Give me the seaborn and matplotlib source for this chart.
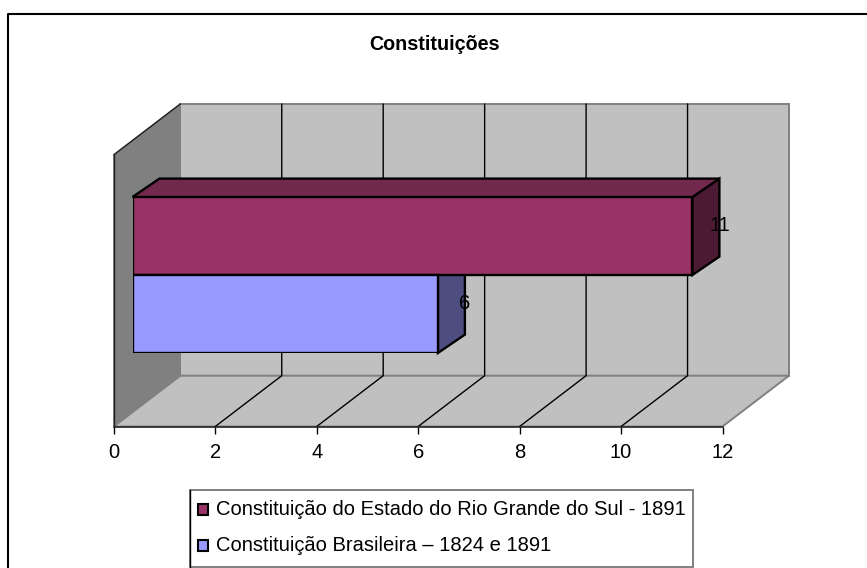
import matplotlib
matplotlib.use('Agg')
import matplotlib.pyplot as plt
import pandas as pd
import seaborn as sns
from matplotlib.patches import Polygon, Rectangle

W, H = 867, 568

titulo = 'Constituições'
categorias = ['Constituição do Estado do Rio Grande do Sul - 1891',
              'Constituição Brasileira – 1824 e 1891']
valores = [11, 6]
cores = ['#993366', '#9999FF']
cores_topo = ['#73294D', '#73294D']
cores_lado = ['#4D1A33', '#4D4D80']
ticks = [0, 2, 4, 6, 8, 10, 12]

# pixels of the fake 3D box
EIXO_X0, EIXO_X1, CHAO_Y = 113.8, 722.5, 426.5
DX, DY = 66.5, 50.8
TOPO_Y = 104
BARRA_X0, BARRA_Y0, BARRA_Y1 = 132.5, 197, 353
BARRA_ESCALA = 50.9
BARRA_DX, BARRA_DY = 27, 18.4

CINZA = '#C0C0C0'
BORDA = '#808080'

sns.set_theme(style='white')
plt.rcParams['font.family'] = ['Liberation Sans', 'DejaVu Sans']

fig = plt.figure(figsize=(W / 100, H / 100), dpi=100, facecolor='white')


def caixa(x0, y0, x1, y1):
    # axes rectangle from image pixels (y down)
    return [x0 / W, 1 - y1 / H, (x1 - x0) / W, (y1 - y0) / H]


# background in pixel coords
bg = fig.add_axes([0, 0, 1, 1])
bg.set_xlim(0, W)
bg.set_ylim(H, 0)
bg.axis('off')

# outer frame, cut by the image on the right and at the bottom
bg.plot([7.5, 7.5, W + 2], [H + 2, 13.5, 13.5], color='black', lw=1.5, clip_on=False)

# walls
fundo = [(EIXO_X0 + DX, TOPO_Y), (EIXO_X1 + DX, TOPO_Y), (EIXO_X1 + DX, CHAO_Y - DY), (EIXO_X0 + DX, CHAO_Y - DY)]
bg.add_patch(Polygon(fundo, facecolor=CINZA, edgecolor=BORDA, lw=1.4))
parede = [(EIXO_X0, TOPO_Y + DY), (EIXO_X0 + DX, TOPO_Y), (EIXO_X0 + DX, CHAO_Y - DY), (EIXO_X0, CHAO_Y)]
bg.add_patch(Polygon(parede, facecolor=BORDA, edgecolor=BORDA, lw=1))
chao = [(EIXO_X0, CHAO_Y), (EIXO_X1, CHAO_Y), (EIXO_X1 + DX, CHAO_Y - DY), (EIXO_X0 + DX, CHAO_Y - DY)]
bg.add_patch(Polygon(chao, facecolor=CINZA, edgecolor=BORDA, lw=1.4))
bg.plot([EIXO_X0, EIXO_X0 + DX], [TOPO_Y + DY, TOPO_Y], color='#202020', lw=1)
bg.plot([EIXO_X0, EIXO_X0], [TOPO_Y + DY, CHAO_Y], color='#202020', lw=1)

# gridlines on wall and floor
esc = (EIXO_X1 - EIXO_X0) / 12
for t in ticks[1:-1]:
    px = EIXO_X0 + t * esc
    bg.plot([px, px + DX, px + DX], [CHAO_Y, CHAO_Y - DY, TOPO_Y], color='black', lw=1)

# value axis
ax = fig.add_axes(caixa(EIXO_X0, CHAO_Y - 10, EIXO_X1, CHAO_Y))
ax.patch.set_alpha(0)
ax.set_xlim(0, 12)
ax.set_ylim(0, 1)
ax.set_xticks(ticks)
ax.set_yticks([])
for s in ['top', 'left', 'right']:
    ax.spines[s].set_visible(False)
ax.spines['bottom'].set_color('#202020')
ax.spines['bottom'].set_linewidth(1.1)
ax.tick_params(axis='x', bottom=True, length=5, width=1, color='black', labelsize=14.5, pad=7, labelcolor='black')

# bars
df = pd.DataFrame({'categoria': categorias, 'valor': valores})
ab = fig.add_axes(caixa(BARRA_X0, BARRA_Y0, BARRA_X0 + 12 * BARRA_ESCALA, BARRA_Y1))
ab.patch.set_alpha(0)
sns.barplot(data=df, x='valor', y='categoria', hue='categoria', palette=cores, width=1.0, saturation=1,
            edgecolor='black', linewidth=1.7, legend=False, ax=ab, zorder=3)
ab.set_xlim(0, 12)
ab.set_ylim(1.5, -0.5)
ab.axis('off')

dx = BARRA_DX / BARRA_ESCALA
dy = BARRA_DY / 78
for i, v in enumerate(valores):
    lado = [(v, i - 0.5), (v + dx, i - 0.5 - dy), (v + dx, i + 0.5 - dy), (v, i + 0.5)]
    ab.add_patch(Polygon(lado, facecolor=cores_lado[i], edgecolor='black', lw=1.7, clip_on=False, zorder=2))
    ab.text(v + dx, i - 0.14, str(v), ha='center', va='center', fontsize=14.5, color='black', zorder=5)
topo = [(0, -0.5), (valores[0], -0.5), (valores[0] + dx, -0.5 - dy), (dx, -0.5 - dy)]
ab.add_patch(Polygon(topo, facecolor=cores_topo[0], edgecolor='black', lw=1.7, clip_on=False, zorder=2))

# title
bg.text(434, 44.5, titulo, ha='center', va='center', fontsize=14.2, fontweight='bold', color='black')

# legend box
bg.add_patch(Rectangle((189.5, 490), 503, 76.5, facecolor='white', edgecolor=BORDA, lw=1.4, zorder=6))
bg.plot([189.5, 189.5], [490, 566.5], color='black', lw=1, zorder=7)
for i, (rot, cor) in enumerate(zip(categorias, cores)):
    yy = 509.5 + i * 36
    bg.add_patch(Rectangle((197.5, yy - 5.5), 10.5, 11, facecolor=cor, edgecolor='black', lw=1.5, zorder=7))
    bg.text(216, yy, rot, ha='left', va='center', fontsize=14.5, color='black', zorder=7)

fig.savefig('out.png', dpi=100)
